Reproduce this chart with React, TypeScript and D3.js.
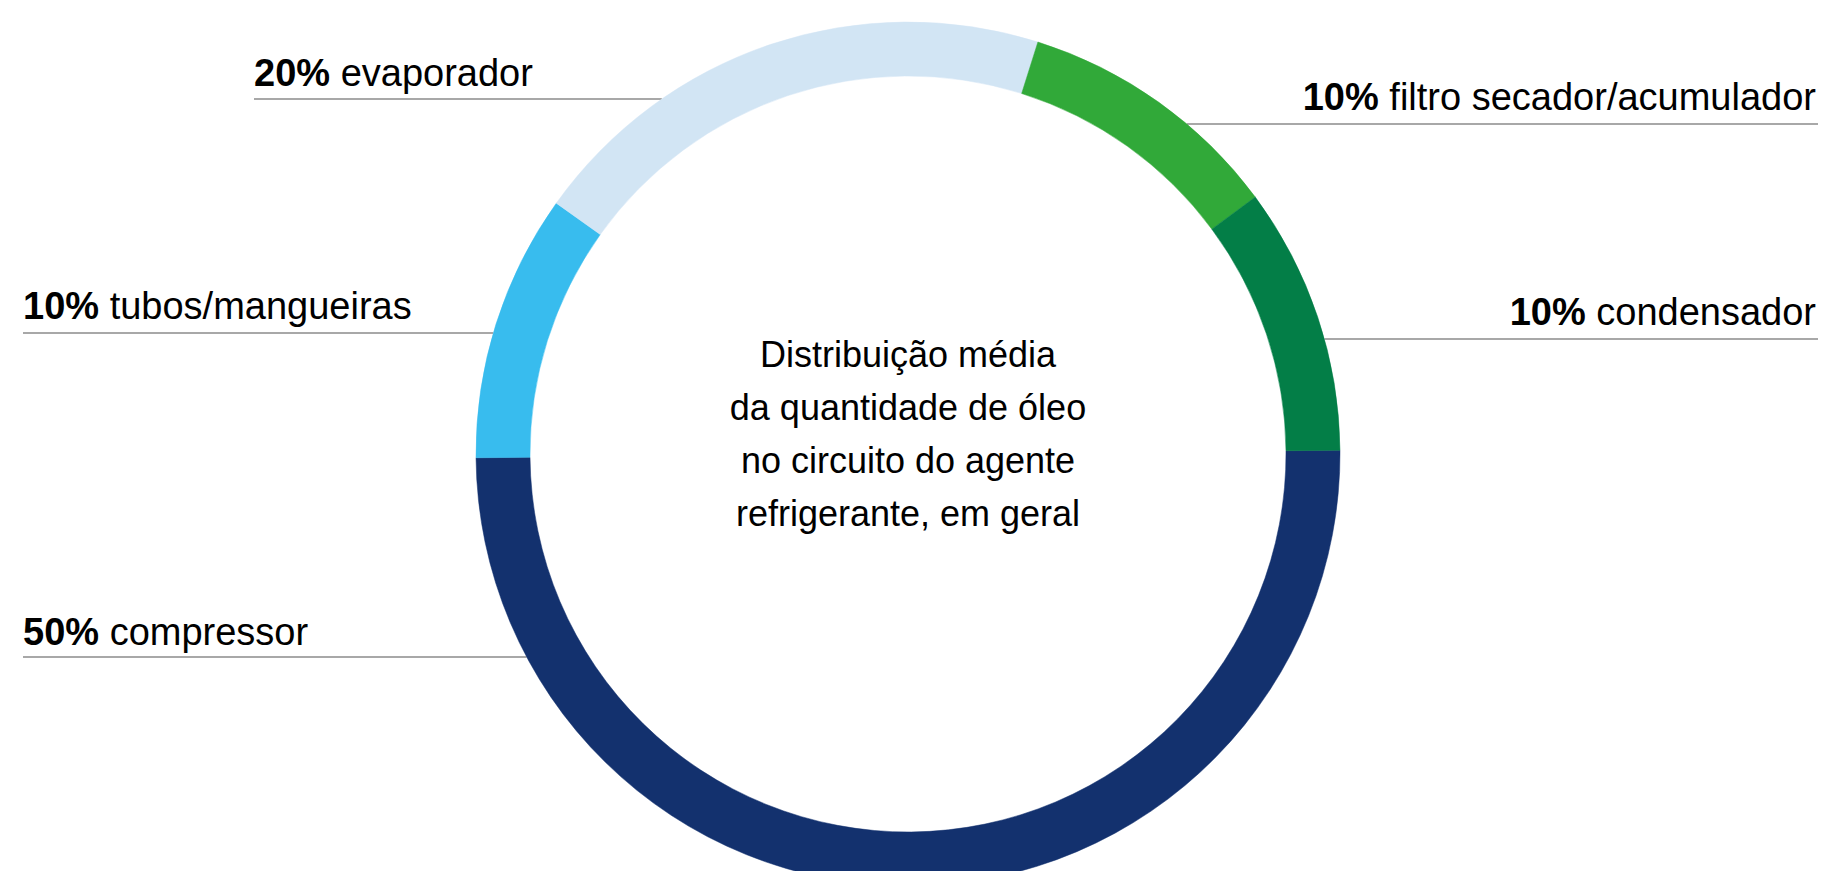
import React from "react";
import * as d3 from "d3";

const categories = [
  "compressor",
  "tubos/mangueiras",
  "evaporador",
  "filtro secador/acumulador",
  "condensador",
];
const values = [50, 10, 20, 10, 10];
const colors = ["#13316e", "#38bcee", "#d2e5f4", "#31a939", "#037e47"];
const centerLines = [
  "Distribuição média",
  "da quantidade de óleo",
  "no circuito do agente",
  "refrigerante, em geral",
];

const W = 1823;
const H = 871;
const cx = 908;
const cy = 454;
const R = 432;
const r = 378;

// label layout per category (side, text anchor x, baseline y, leader y)
const labelLayout = [
  { side: "left", x: 23, y: 645, ly: 657 },
  { side: "left", x: 23, y: 319, ly: 333 },
  { side: "left", x: 254, y: 86, ly: 99 },
  { side: "right", x: 1816, y: 110, ly: 124 },
  { side: "right", x: 1816, y: 325, ly: 339 },
];

export default function App() {
  const data = categories.map((c, i) => ({ name: c, value: values[i], color: colors[i] }));
  const offset = (89.5 * Math.PI) / 180;
  const pie = d3
    .pie<any>()
    .sort(null)
    .value((d: any) => d.value)
    .startAngle(offset)
    .endAngle(offset + 2 * Math.PI);
  const arcs = pie(data);
  const arc = d3.arc<any>().innerRadius(r).outerRadius(R);

  return (
    <svg
      width={W}
      height={H}
      style={{ position: "fixed", left: 0, top: 0, background: "#fff" }}
      fontFamily="'Liberation Sans', Arial, Helvetica, sans-serif"
    >
      {data.map((d, i) => {
        const L = labelLayout[i];
        const dy = L.ly - cy;
        const edge = Math.sqrt(Math.max(0, R * R - dy * dy));
        const x1 = L.side === "left" ? L.x : cx + edge;
        const x2 = L.side === "left" ? cx - edge : L.x + 2;
        return (
          <g key={d.name}>
            <line x1={x1} x2={x2} y1={L.ly} y2={L.ly} stroke="#a8a8a8" strokeWidth={2} />
            <text
              x={L.x}
              y={L.y}
              fontSize={38}
              fill="#000"
              textAnchor={L.side === "left" ? "start" : "end"}
            >
              <tspan fontWeight="bold">{d.value}%</tspan>
              <tspan> {d.name}</tspan>
            </text>
          </g>
        );
      })}
      <g transform={`translate(${cx},${cy})`}>
        {arcs.map((a: any) => (
          <path
            key={a.data.name}
            d={arc(a) as string}
            fill={a.data.color}
            stroke={a.data.color}
            strokeWidth={0.5}
          />
        ))}
      </g>
      <text x={cx} textAnchor="middle" fontSize={36} fill="#000">
        {centerLines.map((t, i) => (
          <tspan key={i} x={cx} y={367 + i * 53}>
            {t}
          </tspan>
        ))}
      </text>
    </svg>
  );
}
